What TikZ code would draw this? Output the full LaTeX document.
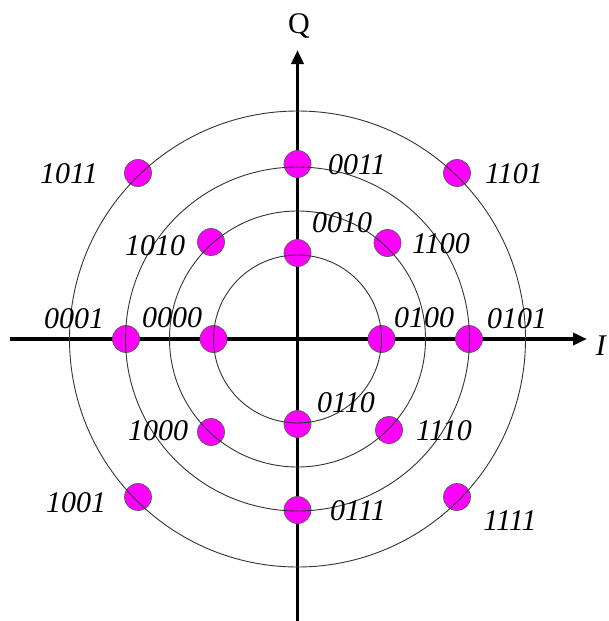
\documentclass[tikz,border=0pt]{standalone}
\usepackage{fontspec}
\setmainfont{Liberation Serif}
\usetikzlibrary{arrows.meta}
\definecolor{dotpink}{RGB}{255,0,255}
\begin{document}
\begin{tikzpicture}[x=1pt,y=-1pt,
  dot/.style={circle,fill=dotpink,draw=black!65,line width=0.7pt,minimum size=27pt,inner sep=0pt},
  ring/.style={draw=black!80,line width=0.9pt},
  axis/.style={line width=3.5pt,-{Triangle[length=14pt,width=12pt]}},
  lab/.style={font=\fontsize{30}{34}\selectfont\itshape,inner sep=0pt}]
\useasboundingbox (0,0) rectangle (608,621);
\coordinate (o) at (297.5,339);
\coordinate (xl) at (10,339);
\coordinate (xr) at (587,339);
\coordinate (yb) at (297.5,625);
\coordinate (yt) at (297.5,50);
% axes
\draw[axis] (xl) -- (xr);
\draw[axis] (yb) -- (yt);
\node[font=\fontsize{30}{34}\selectfont,inner sep=0pt] (Q) at (299,26) {Q};
\node[font=\fontsize{30}{34}\selectfont\itshape,inner sep=0pt,anchor=east] (I) at (606,346) {I};
% dots
\node[dot] (d0000) at (213.5,339) {};
\node[dot] (d0100) at (381.5,339) {};
\node[dot] (d0010) at (297.5,253) {};
\node[dot] (d0110) at (297.5,424) {};
\node[dot] (d0001) at (126,339) {};
\node[dot] (d0101) at (469,339) {};
\node[dot] (d0011) at (297.5,164) {};
\node[dot] (d0111) at (297.5,510) {};
\node[dot] (d1010) at (211,242) {};
\node[dot] (d1100) at (387.5,243) {};
\node[dot] (d1000) at (211,432) {};
\node[dot] (d1110) at (389,430) {};
\node[dot] (d1011) at (138,173) {};
\node[dot] (d1101) at (457,173) {};
\node[dot] (d1001) at (138,497) {};
\node[dot] (d1111) at (457,497) {};
% rings
\draw[ring] (o) circle (84pt);
\draw[ring] (o) circle (128pt);
\draw[ring] (o) circle (172pt);
\draw[ring] (o) circle (228pt);
% labels
\node[lab] (l1011) at (69,174) {1011};
\node[lab] (l0011) at (357,165) {0011};
\node[lab] (l1101) at (514,174) {1101};
\node[lab] (l1010) at (155,246) {1010};
\node[lab] (l0010) at (342,223) {0010};
\node[lab] (l1100) at (441,244) {1100};
\node[lab] (l0001) at (74,319) {0001};
\node[lab] (l0000) at (172,318) {0000};
\node[lab] (l0100) at (424,318) {0100};
\node[lab] (l0101) at (517,319) {0101};
\node[lab] (l0110) at (346,403) {0110};
\node[lab] (l1000) at (158,431) {1000};
\node[lab] (l1110) at (444,431) {1110};
\node[lab] (l1001) at (76,503) {1001};
\node[lab] (l0111) at (358,511) {0111};
\node[lab] (l1111) at (510,521) {1111};
\end{tikzpicture}
\end{document}
